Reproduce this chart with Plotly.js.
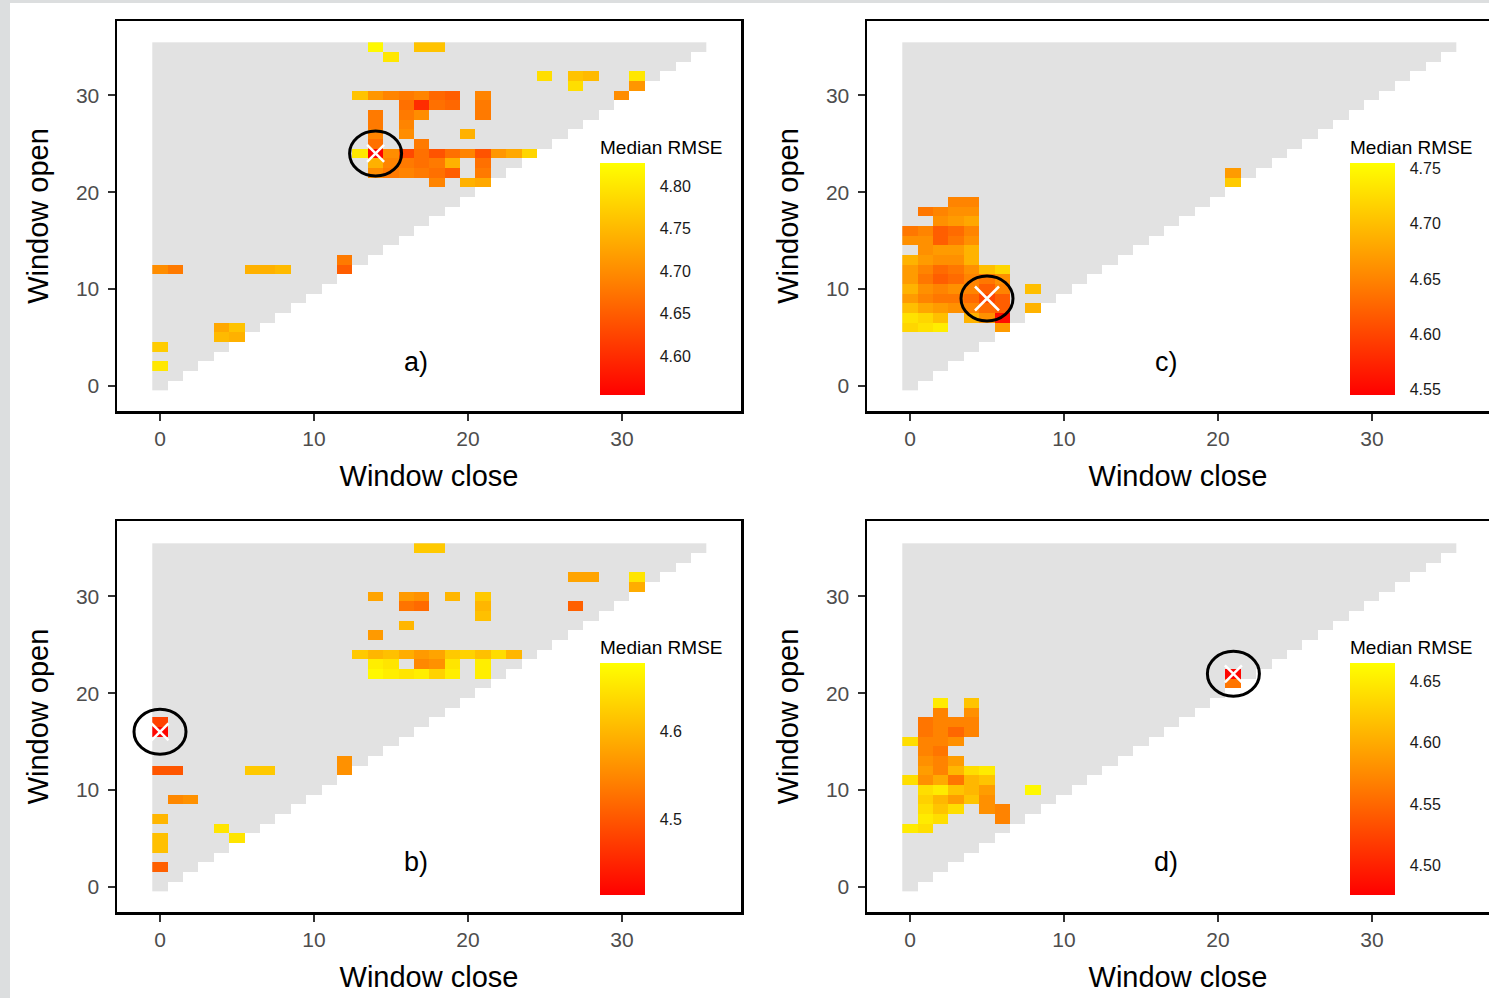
<!DOCTYPE html>
<html>
<head>
<meta charset="utf-8">
<script src="https://cdn.plot.ly/plotly-3.0.1.min.js"></script>
<style>html,body{margin:0;padding:0;background:#fff;}#chart{width:1489px;height:998px;}</style>
</head>
<body>
<div id="chart"></div>
<script>
// ---------------- data ----------------
const windowCells = Array.from({length: 36}, (_, i) => i); // 0..35
const panelLabels = ['a)', 'c)', 'b)', 'd)'];
const tickValsAxis = [0, 10, 20, 30];

// Panel a
const aClose = [0,0, 4,5,4,5, 0,1, 6,7,8, 12,12, 14,15,17,18, 25,27,28,27, 31,31,30,
  13,14,15,16,17,18,19,21, 16,17,18,19,21, 14,16,17,21, 14,16, 14,16,20, 14,17,
  13,14,15,16,17,18,19,20,21,22,23,24, 14,15,16,17,18,19,21, 14,15,16,17,18,19,21, 18,20,21];
const aOpen  = [2,4, 5,5,6,6, 12,12, 12,12,12, 12,13, 35,34,35,35, 32,32,32,31, 32,31,30,
  30,30,30,30,30,30,30,30, 29,29,29,29,29, 28,28,28,28, 27,27, 26,26,26, 25,25,
  24,24,24,24,24,24,24,24,24,24,24,24, 23,23,23,23,23,23,23, 22,22,22,22,22,22,22, 21,21,21];
const aRmse  = [4.80,4.77, 4.75,4.74,4.73,4.76, 4.70,4.68, 4.74,4.74,4.75, 4.65,4.68, 4.82,4.80,4.76,4.76, 4.79,4.76,4.75,4.79, 4.80,4.71,4.70,
  4.76,4.71,4.69,4.68,4.69,4.66,4.65,4.69, 4.67,4.60,4.67,4.66,4.68, 4.68,4.68,4.70,4.68, 4.68,4.69, 4.69,4.70,4.74, 4.67,4.68,
  4.80,4.556,4.70,4.63,4.67,4.64,4.67,4.69,4.64,4.71,4.73,4.78, 4.74,4.69,4.68,4.67,4.68,4.74,4.67, 4.70,4.68,4.69,4.68,4.67,4.65,4.68, 4.69,4.74,4.73];

// Panel c
const cClose = [21,21, 3,4, 1,2,3,4, 2,3,4, 0,1,2,3,4, 0,1,2,3,4, 1,2,3,4, 0,1,2,3,4,
  0,1,2,3,4,5,6, 0,1,2,3,4,5,6, 0,1,2,3,4,5,6,8, 0,1,2,3,4,5,6, 0,1,2,3,4,5,6,8, 0,1,2,4,5,6, 0,1,2,6];
const cOpen  = [22,21, 19,19, 18,18,18,18, 17,17,17, 16,16,16,16,16, 15,15,15,15,15, 14,14,14,14, 13,13,13,13,13,
  12,12,12,12,12,12,12, 11,11,11,11,11,11,11, 10,10,10,10,10,10,10,10, 9,9,9,9,9,9,9, 8,8,8,8,8,8,8,8, 7,7,7,7,7,7, 6,6,6,6];
const cRmse  = [4.67,4.71, 4.65,4.65, 4.64,4.65,4.66,4.66, 4.66,4.67,4.68, 4.64,4.65,4.62,4.63,4.65, 4.66,4.66,4.62,4.64,4.66, 4.66,4.67,4.67,4.69, 4.69,4.67,4.66,4.66,4.69,
  4.67,4.65,4.63,4.64,4.66,4.70,4.72, 4.67,4.64,4.62,4.63,4.65,4.64,4.66, 4.69,4.66,4.65,4.66,4.65,4.62,4.65,4.70, 4.67,4.65,4.64,4.64,4.63,4.60,4.62, 4.70,4.68,4.67,4.66,4.65,4.63,4.62,4.69, 4.73,4.72,4.70,4.69,4.66,4.555, 4.72,4.73,4.74,4.67];

// Panel b
const bClose = [17,18, 27,28, 31,31, 14,16,17,16,17, 19, 21,21,21, 27, 16, 14,
  13,14,15,16,17,18,19,20,21,22,23, 14,15,17,18,19,21, 14,15,16,17,18,19,21,
  0,0, 0,1, 6,7, 12,12, 1,2, 0, 4,5, 0,0, 0];
const bOpen  = [35,35, 32,32, 32,31, 30,30,30,29,29, 30, 28,29,30, 29, 27, 26,
  24,24,24,24,24,24,24,24,24,24,24, 23,23,23,23,23,23, 22,22,22,22,22,22,22,
  17,16, 12,12, 12,12, 12,13, 9,9, 7, 6,5, 5,4, 2];
const bRmse  = [4.62,4.62, 4.58,4.58, 4.65,4.59, 4.58,4.57,4.56,4.53,4.52, 4.60, 4.61,4.60,4.62, 4.51, 4.60, 4.57,
  4.62,4.60,4.61,4.59,4.57,4.58,4.62,4.63,4.61,4.64,4.60, 4.66,4.65,4.55,4.56,4.65,4.66, 4.67,4.66,4.65,4.66,4.63,4.66,4.66,
  4.48,4.42, 4.50,4.50, 4.62,4.62, 4.56,4.56, 4.55,4.56, 4.60, 4.65,4.65, 4.61,4.61, 4.51];

// Panel d
const dClose = [21,21, 2,4, 2,4, 1,2,3,4, 1,2,3,4, 0,1,2,3, 1,2, 1,2,3, 1,2,3,4,5, 0,1,2,3,4,5,
  1,2,3,4,5,8, 1,2,3,4,5, 1,2,3,5,6, 1,2,6, 0,1];
const dOpen  = [22,21, 19,19, 18,18, 17,17,17,17, 16,16,16,16, 15,15,15,15, 14,14, 13,13,13, 12,12,12,12,12, 11,11,11,11,11,11,
  10,10,10,10,10,10, 9,9,9,9,9, 8,8,8,8,8, 7,7,7, 6,6];
const dRmse  = [4.48,4.56, 4.65,4.62, 4.57,4.58, 4.56,4.57,4.57,4.57, 4.56,4.57,4.55,4.57, 4.64,4.57,4.57,4.58, 4.57,4.56, 4.58,4.57,4.59, 4.59,4.57,4.61,4.64,4.65, 4.64,4.58,4.60,4.56,4.61,4.62,
  4.64,4.65,4.62,4.61,4.59,4.66, 4.63,4.61,4.59,4.62,4.58, 4.64,4.62,4.64,4.58,4.57, 4.65,4.64,4.57, 4.65,4.64];

// best (circled) windows per panel, order a, c, b, d
const bestClose = [14, 5, 0, 21];
const bestOpen  = [24, 9, 16, 22];

// colour-bar ranges and ticks per panel (a, c, b, d)
const cbMin = [4.554, 4.545, 4.414, 4.476];
const cbMax = [4.827, 4.755, 4.678, 4.665];
const cbTicks = [[4.60,4.65,4.70,4.75,4.80],[4.55,4.60,4.65,4.70,4.75],[4.5,4.6],[4.50,4.55,4.60,4.65]];
const cbTickText = [['4.60','4.65','4.70','4.75','4.80'],['4.55','4.60','4.65','4.70','4.75'],['4.5','4.6'],['4.50','4.55','4.60','4.65']];

// ---------------- build ----------------
const W = 1489, H = 998;
const FONT = '"Liberation Sans", Arial, Helvetica, sans-serif';
const heatScale = [[0, '#ff0000'], [0.5, '#ff8400'], [1, '#ffff00']];

function gridZ(xs, ys, vs) {
  const z = windowCells.map(() => windowCells.map(() => null));
  xs.forEach((x, i) => { z[ys[i]][x] = vs[i]; });
  return z;
}
const triZ = windowCells.map(y => windowCells.map(x => (y >= x ? 1 : null)));

const panels = [
  {xs: aClose, ys: aOpen, vs: aRmse, xa: 'x',  ya: 'y',  px: [117, 741],  py: [21, 411], xs2: 17},
  {xs: cClose, ys: cOpen, vs: cRmse, xa: 'x2', ya: 'y2', px: [867, 1489], py: [21, 411], xs2: 24},
  {xs: bClose, ys: bOpen, vs: bRmse, xa: 'x3', ya: 'y3', px: [117, 741],  py: [521, 912], xs2: 17},
  {xs: dClose, ys: dOpen, vs: dRmse, xa: 'x4', ya: 'y4', px: [867, 1489], py: [521, 912], xs2: 17}
];

const traces = [];
const layout = {
  width: W, height: H,
  margin: {l: 0, r: 0, t: 0, b: 0},
  paper_bgcolor: '#ffffff', plot_bgcolor: '#ffffff',
  font: {family: FONT, color: '#000'},
  showlegend: false,
  shapes: [
    {type: 'rect', xref: 'paper', yref: 'paper', x0: 0, x1: 10 / W, y0: 0, y1: 1, fillcolor: '#dcdedf', line: {width: 0}, layer: 'below'},
    {type: 'rect', xref: 'paper', yref: 'paper', x0: 0, x1: 1, y0: 1 - 3 / H, y1: 1, fillcolor: '#dcdedf', line: {width: 0}, layer: 'below'}
  ],
  annotations: []
};

panels.forEach((p, i) => {
  const x0 = p.px[0], x1 = p.px[1], y0 = p.py[0], y1 = p.py[1];
  const xZero = x0 + 43, yZero = y1 - 25.5; // pixel location of value 0
  const pxPerX = 15.4, pxPerY = 9.667;
  const xr = [(x0 - xZero) / pxPerX, (x1 - xZero) / pxPerX];
  const yr = [(yZero - y1) / pxPerY, (yZero - y0) / pxPerY];
  const n = i + 1;
  const xKey = n === 1 ? 'xaxis' : 'xaxis' + n;
  const yKey = n === 1 ? 'yaxis' : 'yaxis' + n;

  const common = {
    showgrid: false, zeroline: false, showline: true, mirror: true,
    linecolor: '#000', linewidth: 2.5, ticks: 'outside', ticklen: 7, tickwidth: 2, tickcolor: '#333',
    tickvals: tickValsAxis, tickfont: {family: FONT, size: 21, color: '#4d4d4d'}, fixedrange: true
  };
  layout[xKey] = Object.assign({}, common, {
    domain: [x0 / W, x1 / W], range: xr, anchor: p.ya,
    title: {text: 'Window close', font: {family: FONT, size: 29, color: '#000'}, standoff: 17}
  });
  layout[yKey] = Object.assign({}, common, {
    domain: [1 - y1 / H, 1 - y0 / H], range: yr, anchor: p.xa, ticklabelstandoff: 4,
    title: {text: 'Window open', font: {family: FONT, size: 29, color: '#000'}, standoff: 19}
  });

  // grey triangle of valid windows
  traces.push({
    type: 'heatmap', x: windowCells, y: windowCells, z: triZ, xaxis: p.xa, yaxis: p.ya,
    colorscale: [[0, '#e2e2e2'], [1, '#e2e2e2']], showscale: false, hoverinfo: 'skip', zmin: 0, zmax: 2
  });
  // RMSE cells
  const cbLeft = x0 + 483;
  traces.push({
    type: 'heatmap', x: windowCells, y: windowCells, z: gridZ(p.xs, p.ys, p.vs), xaxis: p.xa, yaxis: p.ya,
    colorscale: heatScale, zmin: cbMin[i], zmax: cbMax[i], showscale: true,
    colorbar: {
      x: cbLeft / W, xanchor: 'left', xref: 'paper',
      y: 1 - (y0 + 116) / H, yanchor: 'top', yref: 'paper',
      len: 258, lenmode: 'pixels', thickness: 45, thicknessmode: 'pixels',
      xpad: 0, ypad: 0, outlinewidth: 0, bgcolor: 'rgba(0,0,0,0)',
      ticks: 'outside', ticklen: 12, tickwidth: 1, tickcolor: '#ffffff',
      tickvals: cbTicks[i], ticktext: cbTickText[i],
      tickfont: {family: FONT, size: 16, color: '#1a1a1a'},
      title: {text: 'Median RMSE', side: 'top', font: {family: FONT, size: 19, color: '#000'}}
    }
  });
  // best window marker (white cross)
  traces.push({
    type: 'scatter', mode: 'markers', x: [bestClose[i]], y: [bestOpen[i]], xaxis: p.xa, yaxis: p.ya,
    marker: {symbol: 'x-thin-open', size: p.xs2, color: '#ffffff', line: {color: '#ffffff', width: 2.5}}, hoverinfo: 'skip'
  });
  // black ring round the best window
  layout.shapes.push({
    type: 'circle', xref: p.xa, yref: p.ya, xsizemode: 'pixel', ysizemode: 'pixel',
    xanchor: bestClose[i], yanchor: bestOpen[i], x0: -26, x1: 26, y0: -22.5, y1: 22.5,
    line: {color: '#000', width: 3}
  });
  // panel letter
  layout.annotations.push({
    xref: 'paper', yref: 'paper', x: (x0 + 299) / W, y: 1 - (y0 + 341) / H,
    text: panelLabels[i], showarrow: false, font: {family: FONT, size: 27, color: '#000'},
    xanchor: 'center', yanchor: 'middle'
  });
});

Plotly.newPlot('chart', traces, layout, {staticPlot: true, displayModeBar: false});
</script>
</body>
</html>
